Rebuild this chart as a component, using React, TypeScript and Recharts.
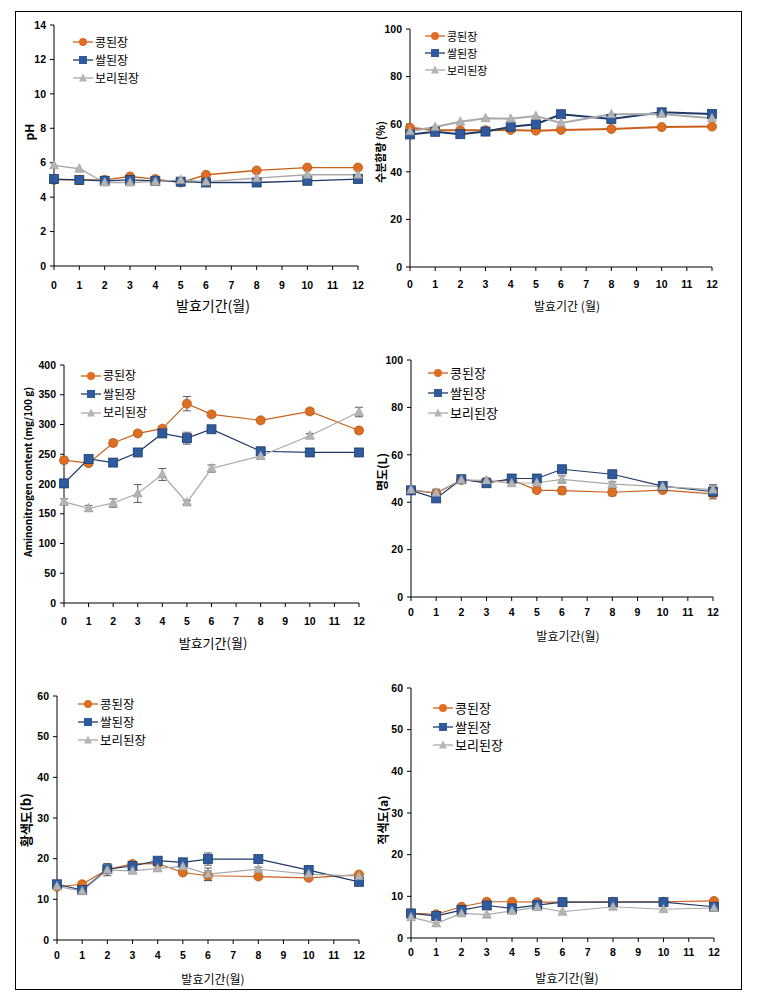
import { LineChart, Line, XAxis, YAxis, ErrorBar } from 'recharts';

// 발효기간 (월)
const months = [0, 1, 2, 3, 4, 5, 6, 8, 10, 12];
const xTicks = [0, 1, 2, 3, 4, 5, 6, 7, 8, 9, 10, 11, 12];
const seriesNames = ['콩된장', '쌀된장', '보리된장'];

// pH
const phSoy = [5.0, 5.0, 5.0, 5.2, 5.05, 4.85, 5.3, 5.55, 5.72, 5.72];
const phRice = [5.05, 5.0, 4.95, 5.0, 4.95, 4.9, 4.85, 4.85, 4.95, 5.05];
const phBarley = [5.85, 5.65, 4.85, 4.85, 4.9, 5.0, 4.9, 5.1, 5.3, 5.3];

// 수분함량 (%)
const mSoy = [58.5, 57.5, 57.5, 57.5, 57.6, 57.3, 57.6, 58.0, 58.8, 59.0];
const mRice = [55.7, 56.8, 55.8, 56.9, 58.9, 60.0, 64.2, 62.2, 65.0, 64.3];
const mBarley = [57.0, 58.8, 61.0, 62.5, 62.3, 63.4, 60.5, 64.2, 64.3, 62.5];

// Aminonitrogen content (mg/100 g)
const amSoy = [240, 235, 269, 285, 293, 335, 317, 307, 322, 290];
const amRice = [201, 242, 236, 253, 285, 277, 292, 255, 253, 253];
const amBarley = [170, 159, 168, 184, 216, 169, 226, 247, 281, 321];
const amSoyErr = [5, 4, 5, 4, 4, 12, 4, 4, 5, 5];
const amRiceErr = [6, 5, 5, 5, 6, 10, 5, 4, 4, 4];
const amBarleyErr = [5, 5, 7, 15, 10, 3, 6, 5, 4, 8];

// 명도 (L)
const lSoy = [45.1, 43.7, 49.4, 48.6, 49.4, 45.1, 44.9, 44.2, 45.1, 43.5];
const lRice = [45.0, 41.6, 49.7, 48.0, 50.0, 50.0, 53.9, 51.8, 46.8, 44.4];
const lBarley = [45.3, 44.0, 49.4, 49.2, 48.0, 48.2, 49.6, 47.6, 46.6, 45.3];
const lSoyErr = [1, 1, 1, 1, 1, 1, 1.5, 1.5, 1, 1];
const lRiceErr = [1, 1, 1, 1, 1, 1, 1, 1, 1, 3];
const lBarleyErr = [1, 1.5, 1, 1, 1, 1, 1.5, 1, 1, 1.5];

// 황색도 (b)
const bSoy = [13.1, 13.7, 17.3, 18.7, 18.8, 16.6, 15.8, 15.6, 15.3, 16.1];
const bRice = [13.7, 12.3, 17.4, 18.2, 19.5, 19.1, 19.9, 19.9, 17.2, 14.3];
const bBarley = [13.2, 12.0, 17.2, 17.0, 17.6, 18.1, 16.2, 17.4, 16.2, 15.7];
const bSoyErr = [0.5, 0.5, 1.5, 0.5, 0.5, 0.5, 1.2, 0.5, 0.5, 0.5];
const bRiceErr = [0.5, 0.5, 0.5, 0.5, 0.5, 0.5, 1.5, 0.5, 0.5, 0.5];
const bBarleyErr = [0.5, 0.5, 0.5, 0.5, 0.5, 0.5, 1.5, 0.5, 0.5, 0.5];

// 적색도 (a)
const aSoy = [5.9, 5.7, 7.5, 8.7, 8.7, 8.6, 8.6, 8.7, 8.7, 8.9];
const aRice = [5.9, 5.3, 6.7, 7.8, 7.1, 7.9, 8.6, 8.6, 8.6, 7.5];
const aBarley = [5.0, 3.5, 5.9, 5.6, 6.5, 7.4, 6.3, 7.5, 6.9, 7.2];

const TICK_FONT = "'Liberation Sans Narrow','Arial Narrow','Liberation Sans',sans-serif";
const KR_FONT = "'Noto Sans CJK KR','Noto Sans',sans-serif";

const ORANGE = '#C9601A';
const ORANGE_FILL = '#DE6E22';
const NAVY = '#1F3A68';
const BLUE_FILL = '#2E5B9E';
const GREY = '#A9A9A9';
const GREY_FILL = '#B4B4B4';

const CircleDot = (p: any) =>
  p.cx == null ? null : (
    <circle key={`c${p.index}`} cx={p.cx} cy={p.cy} r={4.5} fill={ORANGE_FILL} stroke="#B8560F" strokeWidth={0.8} />
  );
const SquareDot = (p: any) =>
  p.cx == null ? null : (
    <rect key={`s${p.index}`} x={p.cx - 4.5} y={p.cy - 4.5} width={9} height={9} fill={BLUE_FILL} stroke="#1F3D6E" strokeWidth={0.8} />
  );
const TriDot = (p: any) =>
  p.cx == null ? null : (
    <polygon
      key={`t${p.index}`}
      points={`${p.cx},${p.cy - 5} ${p.cx + 4.5},${p.cy + 3.5} ${p.cx - 4.5},${p.cy + 3.5}`}
      fill={GREY_FILL}
      stroke="#9A9A9A"
      strokeWidth={0.6}
    />
  );

function LegendIcon({ kind, color }: { kind: number; color: string }) {
  return (
    <svg width={20} height={12} style={{ verticalAlign: 'middle', marginRight: 2 }}>
      <line x1={0} y1={6} x2={20} y2={6} stroke={color} strokeWidth={1.3} />
      {kind === 0 && <circle cx={10} cy={6} r={4} fill={ORANGE_FILL} />}
      {kind === 1 && <rect x={6} y={2} width={8} height={8} fill={BLUE_FILL} />}
      {kind === 2 && <polygon points="10,1.5 14,9.5 6,9.5" fill={GREY_FILL} />}
    </svg>
  );
}

type PanelProps = {
  box: [number, number, number, number];
  values: [number[], number[], number[]];
  errs?: [number[], number[], number[]];
  domain: [number, number];
  yTicks: number[];
  tickMargin: number;
  strokeW: number;
  legend: { x: number; y: number; gap: number; size: number };
  xTitle: { text: string; x: number; y: number; size: number };
  yTitle: { text: string; x: number; y: number; size: number };
};

function Panel({ box, values, errs, domain, yTicks, tickMargin, strokeW, legend, xTitle, yTitle }: PanelProps) {
  const [L, T, R, B] = box;
  const rows = months.map((m, i) => ({
    m,
    soy: values[0][i],
    rice: values[1][i],
    barley: values[2][i],
    soyE: errs ? errs[0][i] : 0,
    riceE: errs ? errs[1][i] : 0,
    barleyE: errs ? errs[2][i] : 0,
  }));
  const tickStyle = { fontSize: 10.5, fontFamily: TICK_FONT, fontWeight: 700, fill: '#000' };
  const colors = [ORANGE, NAVY, GREY];
  const dots = [CircleDot, SquareDot, TriDot];
  const keys = ['soy', 'rice', 'barley'];
  return (
    <>
      <div style={{ position: 'absolute', left: L - 45, top: T - 10 }}>
        <LineChart width={R - L + 55} height={B - T + 40} data={rows} margin={{ top: 10, right: 10, left: 0, bottom: 0 }}>
          <XAxis
            type="number"
            dataKey="m"
            domain={[0, 12]}
            ticks={xTicks}
            interval={0}
            height={30}
            tick={tickStyle}
            tickSize={4}
            tickMargin={tickMargin}
            axisLine={{ stroke: '#000' }}
            tickLine={{ stroke: '#000' }}
          />
          <YAxis
            type="number"
            domain={domain}
            ticks={yTicks}
            interval={0}
            width={45}
            tick={tickStyle}
            tickSize={4}
            tickMargin={4}
            axisLine={{ stroke: '#000' }}
            tickLine={{ stroke: '#000' }}
          />
          {keys.map((k, i) => (
            <Line
              key={k}
              dataKey={k}
              name={seriesNames[i]}
              stroke={colors[i]}
              strokeWidth={strokeW}
              dot={dots[i]}
              isAnimationActive={false}
            >
              {errs && <ErrorBar dataKey={`${k}E`} direction="y" width={4} stroke="#333" strokeWidth={0.8} />}
            </Line>
          ))}
        </LineChart>
      </div>
      <div style={{ position: 'absolute', left: legend.x, top: legend.y, fontFamily: KR_FONT, fontSize: legend.size }}>
        {seriesNames.map((n, i) => (
          <div key={n} style={{ height: legend.gap, lineHeight: `${legend.gap}px`, whiteSpace: 'nowrap' }}>
            <LegendIcon kind={i} color={colors[i]} />
            <span
              style={{
                display: 'inline-block',
                verticalAlign: 'middle',
                height: legend.gap - 2,
                lineHeight: `${legend.gap - 2}px`,
              }}
            >
              {n}
            </span>
          </div>
        ))}
      </div>
      <div
        style={{
          position: 'absolute',
          left: xTitle.x,
          top: xTitle.y,
          transform: 'translate(-50%,-50%)',
          fontFamily: KR_FONT,
          fontSize: xTitle.size,
          whiteSpace: 'nowrap',
        }}
      >
        {xTitle.text}
      </div>
      <div
        style={{
          position: 'absolute',
          left: yTitle.x,
          top: yTitle.y,
          transform: 'translate(-50%,-50%) rotate(-90deg)',
          fontFamily: KR_FONT,
          fontWeight: 700,
          fontSize: yTitle.size,
          lineHeight: 1.1,
          whiteSpace: 'nowrap',
        }}
      >
        {yTitle.text}
      </div>
    </>
  );
}

export default function App() {
  return (
    <div style={{ position: 'relative', width: 768, height: 998, margin: -8, background: '#fff' }}>
      <div
        style={{
          position: 'absolute',
          left: 15,
          top: 11,
          width: 727,
          height: 979,
          border: '1px solid #000',
          boxSizing: 'border-box',
        }}
      />
      <Panel
        box={[54, 25, 358, 266]}
        values={[phSoy, phRice, phBarley]}
        domain={[0, 14]}
        yTicks={[0, 2, 4, 6, 8, 10, 12, 14]}
        tickMargin={12}
        strokeW={1.3}
        legend={{ x: 73, y: 31, gap: 18, size: 12 }}
        xTitle={{ text: '발효기간(월)', x: 213, y: 305, size: 14 }}
        yTitle={{ text: 'pH', x: 29, y: 132, size: 12 }}
      />
      <Panel
        box={[410, 29, 712, 267]}
        values={[mSoy, mRice, mBarley]}
        domain={[0, 100]}
        yTicks={[0, 20, 40, 60, 80, 100]}
        tickMargin={10}
        strokeW={2}
        legend={{ x: 425, y: 26, gap: 17, size: 11 }}
        xTitle={{ text: '발효기간 (월)', x: 567, y: 305, size: 12 }}
        yTitle={{ text: '수분함량 (%)', x: 380, y: 152, size: 11 }}
      />
      <Panel
        box={[64, 365, 359, 603]}
        values={[amSoy, amRice, amBarley]}
        errs={[amSoyErr, amRiceErr, amBarleyErr]}
        domain={[0, 400]}
        yTicks={[0, 50, 100, 150, 200, 250, 300, 350, 400]}
        tickMargin={11}
        strokeW={1.2}
        legend={{ x: 81, y: 365, gap: 18.5, size: 12 }}
        xTitle={{ text: '발효기간(월)', x: 213, y: 642, size: 13 }}
        yTitle={{ text: 'Aminonitrogen content (mg/100 g)', x: 27, y: 472, size: 10 }}
      />
      <Panel
        box={[411, 360, 713, 597]}
        values={[lSoy, lRice, lBarley]}
        errs={[lSoyErr, lRiceErr, lBarleyErr]}
        domain={[0, 100]}
        yTicks={[0, 20, 40, 60, 80, 100]}
        tickMargin={8}
        strokeW={1.2}
        legend={{ x: 428, y: 362, gap: 20, size: 13 }}
        xTitle={{ text: '발효기간(월)', x: 568, y: 635, size: 12 }}
        yTitle={{ text: '명도(L)', x: 382, y: 472, size: 12 }}
      />
      <Panel
        box={[57, 696, 359, 940]}
        values={[bSoy, bRice, bBarley]}
        errs={[bSoyErr, bRiceErr, bBarleyErr]}
        domain={[0, 60]}
        yTicks={[0, 10, 20, 30, 40, 50, 60]}
        tickMargin={8}
        strokeW={1.2}
        legend={{ x: 78, y: 693, gap: 18, size: 12.5 }}
        xTitle={{ text: '발효기간(월)', x: 213, y: 978, size: 12 }}
        yTitle={{ text: '황색도(b)', x: 26, y: 820, size: 13 }}
      />
      <Panel
        box={[411, 688, 714, 938]}
        values={[aSoy, aRice, aBarley]}
        domain={[0, 60]}
        yTicks={[0, 10, 20, 30, 40, 50, 60]}
        tickMargin={7}
        strokeW={1.2}
        legend={{ x: 433, y: 698, gap: 18.5, size: 13 }}
        xTitle={{ text: '발효기간(월)', x: 567, y: 977, size: 12 }}
        yTitle={{ text: '적색도(a)', x: 383, y: 820, size: 12 }}
      />
    </div>
  );
}
